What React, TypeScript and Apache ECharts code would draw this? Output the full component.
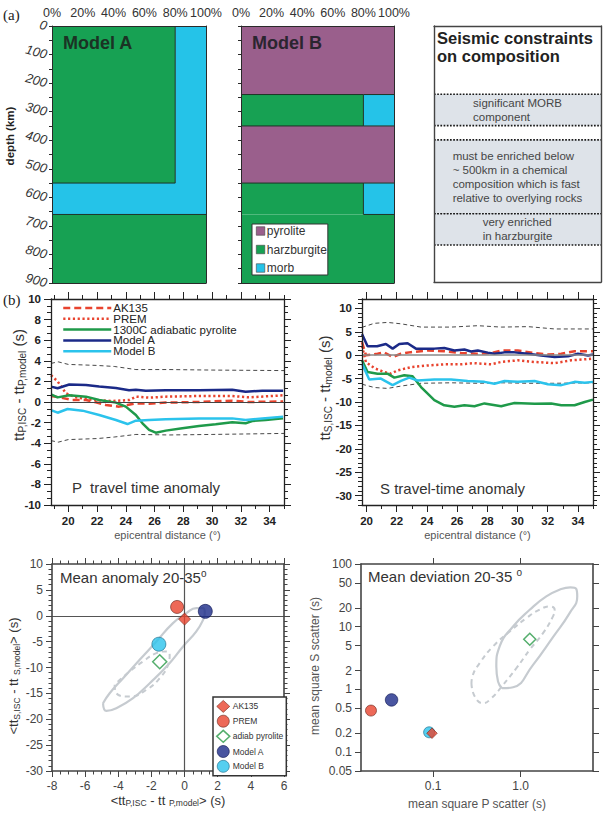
import React, { useEffect, useRef } from 'react';
import * as echarts from 'echarts';

const FONT = '"Liberation Sans", Arial, Helvetica, sans-serif';
const W = 605;
const H = 813;

// ---------- (a) composition columns: percent of each rock per depth layer ----------
const MODEL_A_LAYERS = [
  { top: 0, bottom: 550, pyrolite: 0, harzburgite: 80, morb: 20 },
  { top: 550, bottom: 660, pyrolite: 0, harzburgite: 0, morb: 100 },
  { top: 660, bottom: 900, pyrolite: 0, harzburgite: 100, morb: 0 },
];
const MODEL_B_LAYERS = [
  { top: 0, bottom: 240, pyrolite: 100, harzburgite: 0, morb: 0 },
  { top: 240, bottom: 350, pyrolite: 0, harzburgite: 80, morb: 20 },
  { top: 350, bottom: 550, pyrolite: 100, harzburgite: 0, morb: 0 },
  { top: 550, bottom: 660, pyrolite: 0, harzburgite: 80, morb: 20 },
  { top: 660, bottom: 900, pyrolite: 0, harzburgite: 100, morb: 0 },
];
const ROCKS = ['pyrolite', 'harzburgite', 'morb'];
const ROCK_COLORS: Record<string, string> = {
  pyrolite: '#9a5f8c',
  harzburgite: '#17a153',
  morb: '#25c3e8',
};
const PERCENT_LABELS = [0, 20, 40, 60, 80, 100];
const DEPTH_LABELS = [0, 100, 200, 300, 400, 500, 600, 700, 800, 900];
const DEPTH_TICKS = [0, 50, 100, 150, 200, 250, 300, 350, 400, 450, 500, 550, 600, 650, 700, 750, 800, 850, 900];

// seismic constraint bands (depth km)
const BAND_TOPS = [240, 400, 660];
const BAND_BOTTOMS = [350, 660, 770];
const BAND_TEXTS = [
  'significant MORB\ncomponent',
  'must be enriched below\n~ 500km in a chemical\ncomposition which is fast\nrelative to overlying rocks',
  'very enriched\nin harzburgite',
];

// ---------- (b) P travel-time anomaly [distance deg, seconds] ----------
const P_AK135 = [[18.8, 0.58], [19.38, 0.45], [20.3, 0.2], [21.23, 0.2], [21.92, -0.03], [22.61, -0.29], [23.54, -0.45], [24.12, -0.29], [24.7, -0.13], [25.62, -0.16], [26.78, -0.06], [29.09, 0.0], [31.4, 0.13], [32.56, 0.0], [34.94, 0.06]];
const P_PREM = [[18.8, 2.6], [19.26, 2.0], [19.84, 0.84], [20.53, 0.45], [21.23, 0.29], [22.15, 0.16], [23.08, 0.1], [24.23, 0.19], [24.7, 0.52], [25.62, 0.42], [26.78, 0.52], [29.09, 0.58], [31.4, 0.58], [32.56, 0.45], [34.94, 0.65]];
const P_PYROLITE = [[18.8, 0.74], [19.26, 0.45], [20.07, 0.65], [21.23, 0.52], [22.15, 0.19], [23.31, -0.06], [24.0, -0.45], [24.7, -1.26], [25.16, -2.07], [25.62, -2.7], [26.08, -2.98], [26.78, -2.78], [27.93, -2.55], [29.09, -2.33], [30.25, -2.17], [31.4, -1.97], [32.33, -2.07], [32.79, -1.84], [33.72, -1.75], [34.94, -1.59]];
const P_MODEL_A = [[18.8, 1.49], [19.26, 1.33], [20.07, 1.7], [21.23, 1.65], [22.15, 1.5], [23.31, 1.35], [24.23, 1.15], [24.7, 1.2], [25.39, 1.1], [26.78, 1.15], [29.09, 1.15], [31.4, 1.2], [32.33, 1.0], [33.49, 1.1], [34.94, 1.1]];
const P_MODEL_B = [[18.8, -0.78], [19.26, -1.04], [19.95, -0.68], [20.99, -0.84], [22.15, -1.26], [23.31, -1.75], [24.12, -2.14], [24.7, -1.81], [25.62, -1.75], [26.78, -1.68], [29.09, -1.59], [31.4, -1.59], [32.33, -1.75], [33.49, -1.6], [34.94, -1.42]];
const P_ENV_UP = [[18.8, 3.75], [19.3, 3.9], [20.0, 3.65], [22.0, 3.55], [23.2, 3.45], [24.7, 3.15], [27.0, 3.15], [30.0, 3.1], [35.0, 3.05]];
const P_ENV_LOW = [[18.8, -3.75], [19.3, -3.9], [20.0, -3.65], [22.0, -3.55], [23.2, -3.4], [24.7, -3.15], [27.0, -3.2], [30.0, -3.15], [35.0, -3.05]];

// ---------- (b) S travel-time anomaly ----------
const S_AK135 = [[19.7, 2.8], [19.96, 0], [20.73, 0.3], [21.17, 0.6], [21.73, -0.4], [22.28, 0.3], [22.94, 0.65], [24.05, 1.0], [25.15, 0.85], [26.26, 0.45], [27.37, 0.3], [28.25, 0.45], [28.92, 1.0], [30.02, 1.0], [31.13, 0.45], [32.01, 0.15], [32.9, 0.3], [33.78, 0.85], [35.0, 0.85]];
const S_PREM = [[19.7, 2.0], [19.96, -1.5], [20.51, -2.75], [21.17, -3.6], [21.62, -3.95], [22.06, -3.25], [22.94, -2.55], [24.05, -2.2], [25.15, -1.95], [26.26, -1.95], [27.15, -1.7], [28.25, -1.95], [28.92, -1.45], [30.02, -1.1], [31.13, -1.45], [32.46, -1.7], [33.56, -1.1], [35.0, -0.75]];
const S_PYROLITE = [[19.7, -1.1], [20.07, -3.6], [20.73, -3.95], [21.39, -3.95], [21.84, -4.8], [22.5, -4.3], [23.05, -4.5], [23.61, -6.8], [24.49, -9.6], [25.15, -10.7], [25.82, -11.0], [26.48, -10.7], [27.15, -10.9], [27.81, -10.3], [28.92, -10.9], [29.8, -10.2], [31.13, -10.4], [32.23, -10.3], [32.9, -10.7], [33.78, -10.7], [34.45, -10.0], [35.0, -9.5]];
const S_MODEL_A = [[19.7, 4.5], [20.07, 1.9], [20.7, 1.9], [21.28, 2.4], [21.73, 1.4], [22.17, 2.4], [22.72, 2.55], [23.27, 1.4], [24.49, 1.4], [25.15, 1.55], [25.82, 1.0], [26.48, 1.2], [26.92, 0.8], [27.37, 1.0], [28.03, 0.55], [28.47, 0.3], [29.14, 0.6], [29.8, 0.6], [30.69, 0.3], [31.57, -0.05], [32.46, -0.4], [33.34, -0.25], [34.0, 0.3], [34.67, -0.05], [35.0, 0.15]];
const S_MODEL_B = [[19.7, -1.8], [20.18, -5.2], [20.95, -5.0], [21.73, -6.4], [22.28, -5.5], [22.83, -4.8], [23.38, -5.4], [24.49, -5.2], [25.6, -5.2], [26.7, -5.5], [27.81, -5.7], [28.47, -6.1], [29.14, -5.5], [30.02, -5.7], [31.13, -5.5], [32.01, -6.2], [32.9, -6.4], [33.78, -5.7], [34.45, -5.9], [35.0, -5.7]];
const S_ENV_UP = [[19.7, 5.95], [20.51, 6.8], [21.39, 7.0], [22.28, 6.7], [23.61, 6.0], [25.6, 6.0], [27.37, 6.3], [28.92, 6.0], [30.69, 6.1], [32.46, 5.6], [35.0, 5.6]];
const S_ENV_LOW = [[19.7, -6.2], [20.51, -6.9], [21.39, -7.1], [22.28, -6.6], [23.61, -6.0], [25.6, -5.9], [27.37, -6.0], [28.92, -5.9], [30.69, -6.0], [32.46, -6.0], [35.0, -5.9]];

// ---------- mean anomaly / mean deviation over 20-35 deg ----------
const MODEL_NAMES = ['AK135', 'PREM', 'adiab pyrolite', 'Model A', 'Model B'];
const MEAN_P = [0.0, -0.45, -1.5, 1.25, -1.55];
const MEAN_S = [-0.65, 1.7, -8.9, 0.85, -5.5];
const DEV_P = [0.097, 0.0195, 1.27, 0.0335, 0.09];
const DEV_S = [0.2, 0.46, 6.3, 0.68, 0.207];

// confidence regions
const MEAN_OUTER = [[-4.92, -16.9], [-4.52, -14.97], [-3.71, -12.06], [-2.71, -8.52], [-1.7, -4.97], [-0.7, -1.42], [0.11, 0.52], [0.71, 1.48], [1.12, 1.48], [1.22, 0.52], [1.12, -0.77], [0.71, -3.03], [-0.09, -5.94], [-0.99, -9.48], [-2.1, -13.03], [-3.11, -15.94], [-4.12, -17.87], [-4.72, -18.39]];
const MEAN_INNER = [[-4.22, -13.35], [-4.12, -14.97], [-3.31, -15.61], [-2.31, -14.32], [-1.5, -12.06], [-1.0, -9.48], [-0.9, -7.55], [-1.1, -6.9], [-1.7, -7.23], [-2.51, -8.84], [-3.31, -10.77], [-4.02, -12.71]];
const DEV_OUTER = [[0.612, 1.045], [0.818, 1.084], [1.384, 2.466], [2.339, 6.82], [3.622, 16.48], [4.426, 30.4], [4.315, 39.9], [3.69, 42.4], [2.91, 39.9], [1.963, 30.4], [1.268, 18.6], [0.818, 10.09], [0.575, 4.84], [0.527, 2.317], [0.551, 1.337]];
const DEV_INNER = [[0.274, 1.256], [0.299, 0.769], [0.372, 0.603], [0.462, 0.723], [0.628, 1.18], [0.893, 2.18], [1.268, 4.29], [1.8, 7.91], [2.339, 14.6], [2.443, 18.7], [2.143, 21.1], [1.648, 18.7], [1.161, 13.7], [0.75, 8.39], [0.483, 4.84], [0.34, 2.62], [0.281, 1.61]];

const P_X_LABELS = [20, 22, 24, 26, 28, 30, 32, 34];
const P_Y_LABELS = [-10, -8, -6, -4, -2, 0, 2, 4, 6, 8, 10];
const S_Y_LABELS = [-30, -25, -20, -15, -10, -5, 0, 5, 10];
const MEAN_X_LABELS = [-8, -6, -4, -2, 0, 2, 4, 6];
const MEAN_Y_LABELS = [-30, -25, -20, -15, -10, -5, 0, 5, 10];
const DEV_X_LABELS = [0.1, 1.0];
const DEV_Y_LABELS = [0.05, 0.1, 0.2, 0.5, 1, 2, 5, 10, 20, 50, 100];

const steps = (a: number, b: number, s: number) => {
  const out: number[] = [];
  for (let v = a; v <= b + 1e-9; v += s) out.push(+v.toFixed(4));
  return out;
};
const lg = (v: number) => Math.log10(v);
const closed = (pts: number[][]) => [...pts, pts[0]];

// ---------- helpers ----------
type Side = { major?: number[]; minor?: number[]; labels?: number[] };
interface FrameOpt {
  grid: number;
  min: number;
  max: number;
  inverse?: boolean;
  near: Side;
  far: Side;
  fmt?: (v: number) => string;
  labelStyle?: any;
  color?: string;
  lineWidth?: number;
  tickLen?: number;
  minorLen?: number;
  name?: string;
  nameGap?: number;
  nameStyle?: any;
}

function buildAxes(list: any[], dir: 'x' | 'y', o: FrameOpt): number {
  const sides = dir === 'x' ? ['bottom', 'top'] : ['left', 'right'];
  const color = o.color ?? '#222';
  const base = {
    type: 'value',
    gridIndex: o.grid,
    min: o.min,
    max: o.max,
    inverse: !!o.inverse,
    splitLine: { show: false },
    splitArea: { show: false },
    z: 6,
    silent: true,
  };
  const mainIdx = list.length;
  [o.near, o.far].forEach((side, i) => {
    const hasLabels = !!side.labels && side.labels.length > 0;
    const ax: any = {
      ...base,
      position: sides[i],
      axisLine: { show: true, onZero: false, lineStyle: { color, width: o.lineWidth ?? 1 } },
      axisTick:
        side.major && side.major.length
          ? { show: true, inside: false, length: o.tickLen ?? 7, customValues: side.major, lineStyle: { color, width: 1 } }
          : { show: false },
      axisLabel: hasLabels
        ? { show: true, customValues: side.labels, formatter: o.fmt, fontFamily: FONT, ...o.labelStyle }
        : { show: false },
    };
    if (hasLabels && o.name) {
      Object.assign(ax, { name: o.name, nameLocation: 'middle', nameGap: o.nameGap, nameTextStyle: { fontFamily: FONT, ...o.nameStyle } });
    }
    list.push(ax);
    if (side.minor && side.minor.length) {
      list.push({
        ...base,
        position: sides[i],
        axisLine: { show: false, onZero: false },
        axisTick: { show: true, inside: false, length: o.minorLen ?? 4, customValues: side.minor, lineStyle: { color, width: 1 } },
        axisLabel: { show: false },
      });
    }
  });
  return mainIdx;
}

type Layer = { top: number; bottom: number; [k: string]: number };

function rockRects(layers: Layer[], rock: string) {
  const out: number[][] = [];
  layers.forEach((L) => {
    let x0 = 0;
    ROCKS.forEach((r) => {
      const w = L[r];
      if (r === rock && w > 0) out.push([x0, x0 + w, L.top, L.bottom]);
      x0 += w;
    });
  });
  return out;
}

function rockAt(L: Layer, x: number) {
  let acc = 0;
  for (const r of ROCKS) {
    acc += L[r];
    if (x < acc) return r;
  }
  return ROCKS[ROCKS.length - 1];
}

function splitsOf(L: Layer) {
  const out: number[] = [];
  let acc = 0;
  ROCKS.forEach((r) => {
    if (L[r] > 0) {
      acc += L[r];
      if (acc < 100) out.push(acc);
    }
  });
  return out;
}

// outline segments wherever two different rocks meet
function contactSegments(layers: Layer[]) {
  const segs: number[][] = [];
  layers.forEach((L) => splitsOf(L).forEach((x) => segs.push([x, L.top, x, L.bottom])));
  for (let i = 0; i < layers.length - 1; i++) {
    const A = layers[i];
    const B = layers[i + 1];
    const cuts = Array.from(new Set([0, 100, ...splitsOf(A), ...splitsOf(B)])).sort((a, b) => a - b);
    for (let k = 0; k < cuts.length - 1; k++) {
      const mid = (cuts[k] + cuts[k + 1]) / 2;
      if (rockAt(A, mid) !== rockAt(B, mid)) segs.push([cuts[k], A.bottom, cuts[k + 1], A.bottom]);
    }
  }
  return segs;
}

function textWidth(text: string, font: string) {
  const c = document.createElement('canvas').getContext('2d');
  if (!c) return 0;
  c.font = font;
  return Math.max(...text.split('\n').map((t) => c.measureText(t).width));
}

const rectRenderer = (color: string) => (_p: any, api: any) => {
  const a = api.coord([api.value(0), api.value(2)]);
  const b = api.coord([api.value(1), api.value(3)]);
  return {
    type: 'rect',
    shape: { x: Math.min(a[0], b[0]), y: Math.min(a[1], b[1]), width: Math.abs(b[0] - a[0]), height: Math.abs(b[1] - a[1]) },
    style: { fill: color },
  };
};

const segRenderer = (_p: any, api: any) => {
  const a = api.coord([api.value(0), api.value(1)]);
  const b = api.coord([api.value(2), api.value(3)]);
  return { type: 'line', shape: { x1: a[0], y1: a[1], x2: b[0], y2: b[1] }, style: { stroke: '#1d3326', lineWidth: 1 } };
};

const BAND_FONT_SIZE = 11.5;
const bandRenderer = (p: any, api: any) => {
  const a = api.coord([0, api.value(0)]);
  const b = api.coord([100, api.value(1)]);
  const text = BAND_TEXTS[p.dataIndex];
  const w = textWidth(text, `${BAND_FONT_SIZE}px ${FONT}`);
  const dotted = { stroke: '#1a1a1a', lineWidth: 1.7, lineDash: [1.7, 1.5] };
  return {
    type: 'group',
    children: [
      { type: 'rect', shape: { x: a[0], y: a[1], width: b[0] - a[0], height: b[1] - a[1] }, style: { fill: '#dee3e9' } },
      { type: 'line', shape: { x1: a[0], y1: a[1], x2: b[0], y2: a[1] }, style: dotted },
      { type: 'line', shape: { x1: a[0], y1: b[1], x2: b[0], y2: b[1] }, style: dotted },
      {
        type: 'text',
        x: (a[0] + b[0]) / 2 - w / 2,
        y: (a[1] + b[1]) / 2,
        style: { text, fill: '#464646', fontSize: BAND_FONT_SIZE, fontFamily: FONT, lineHeight: 14, align: 'left', verticalAlign: 'middle' },
      },
    ],
  };
};

const RED = '#e8432e';
const GREEN = '#1f9a4a';
const NAVY = '#1b2a88';
const CYAN = '#2bc3ec';

function buildOption() {
  const xAxes: any[] = [];
  const yAxes: any[] = [];
  const series: any[] = [];

  // ---- (a) model columns ----
  const modelX = (grid: number) =>
    buildAxes(xAxes, 'x', {
      grid, min: 0, max: 100, color: '#2a2a2a',
      near: {}, far: { labels: PERCENT_LABELS },
      fmt: (v) => `${v}%`,
      labelStyle: { fontSize: 12.5, color: '#333', margin: 7 },
    });
  const depthY = (grid: number, labels: boolean) =>
    buildAxes(yAxes, 'y', {
      grid, min: 0, max: 900, inverse: true, color: '#2a2a2a', tickLen: 3,
      near: { major: DEPTH_TICKS, labels: labels ? DEPTH_LABELS : undefined }, far: {},
      labelStyle: { fontSize: 13, fontStyle: 'italic', color: '#333', rotate: -15, margin: 5, padding: [0, 0, 8, 0] },
    });
  const ax0 = modelX(0), ay0 = depthY(0, true);
  const ax1 = modelX(1), ay1 = depthY(1, false);
  const ax2 = buildAxes(xAxes, 'x', { grid: 2, min: 0, max: 100, color: '#444', lineWidth: 1.4, near: {}, far: {} });
  const ay2 = buildAxes(yAxes, 'y', { grid: 2, min: 0, max: 900, inverse: true, color: '#444', lineWidth: 1.4, near: {}, far: {} });

  const modelSeries = (layers: Layer[], xi: number, yi: number) => {
    ROCKS.forEach((rock) => {
      const data = rockRects(layers, rock);
      if (!data.length) return;
      series.push({
        type: 'custom', name: rock, xAxisIndex: xi, yAxisIndex: yi, data, silent: true, z: 2,
        encode: { x: [0, 1], y: [2, 3] },
        itemStyle: { color: ROCK_COLORS[rock] },
        renderItem: rectRenderer(ROCK_COLORS[rock]),
      });
    });
    series.push({
      type: 'custom', name: 'contacts', xAxisIndex: xi, yAxisIndex: yi, data: contactSegments(layers), silent: true, z: 3,
      encode: { x: [0, 2], y: [1, 3] },
      renderItem: segRenderer,
    });
  };
  modelSeries(MODEL_A_LAYERS as Layer[], ax0, ay0);
  modelSeries(MODEL_B_LAYERS as Layer[], ax1, ay1);

  series.push({
    type: 'custom', name: 'constraints', xAxisIndex: ax2, yAxisIndex: ay2, silent: true, z: 2,
    data: BAND_TOPS.map((t, i) => [t, BAND_BOTTOMS[i]]),
    encode: { y: [0, 1] },
    renderItem: bandRenderer,
  });

  // ---- (b) travel-time anomaly panels ----
  const boldLabels = { fontSize: 11.5, fontWeight: 'bold', color: '#222', margin: 10 };
  const distName = { fontSize: 11, color: '#555' };
  const px = buildAxes(xAxes, 'x', {
    grid: 3, min: 18.8, max: 35, lineWidth: 1.3,
    near: { major: P_X_LABELS, minor: steps(19, 35, 1), labels: P_X_LABELS },
    far: { major: P_X_LABELS, minor: steps(19, 35, 1) },
    labelStyle: boldLabels, name: 'epicentral distance (°)', nameGap: 24, nameStyle: distName,
  });
  const py = buildAxes(yAxes, 'y', {
    grid: 3, min: -10, max: 10, lineWidth: 1.3,
    near: { major: P_Y_LABELS, minor: steps(-10, 10, 2 / 3), labels: P_Y_LABELS },
    far: { major: P_Y_LABELS, minor: steps(-10, 10, 2 / 3) },
    labelStyle: boldLabels,
  });
  const sx = buildAxes(xAxes, 'x', {
    grid: 4, min: 19.7, max: 35, lineWidth: 1.3,
    near: { major: P_X_LABELS, minor: steps(20, 35, 1), labels: P_X_LABELS },
    far: { major: P_X_LABELS, minor: steps(20, 35, 1) },
    labelStyle: boldLabels, name: 'epicentral distance (°)', nameGap: 24, nameStyle: distName,
  });
  const sy = buildAxes(yAxes, 'y', {
    grid: 4, min: -32, max: 12, lineWidth: 1.3,
    near: { major: S_Y_LABELS, minor: steps(-32, 12, 1), labels: S_Y_LABELS },
    far: { major: S_Y_LABELS, minor: steps(-32, 12, 1) },
    labelStyle: boldLabels,
  });

  const line = (name: string, data: number[][], xi: number, yi: number, color: string, width: number, type: any = 'solid', extra: any = {}) => ({
    type: 'line', name, data, xAxisIndex: xi, yAxisIndex: yi, symbol: 'none', showSymbol: false, silent: true,
    lineStyle: { color, width, type, cap: 'butt' }, itemStyle: { color }, z: 3, ...extra,
  });
  const zeroLine = (color: string, width: number) => ({
    silent: true, symbol: 'none', label: { show: false },
    lineStyle: { color, width, type: 'solid' }, data: [{ yAxis: 0 }],
  });
  const envStyle = ['#333', 0.9, [4, 3]] as const;

  series.push(line('P upper bound', P_ENV_UP, px, py, envStyle[0], envStyle[1], envStyle[2], { markLine: zeroLine('#444', 1) }));
  series.push(line('P lower bound', P_ENV_LOW, px, py, envStyle[0], envStyle[1], envStyle[2]));
  series.push(line('AK135', P_AK135, px, py, RED, 2.5, [7, 4]));
  series.push(line('PREM', P_PREM, px, py, RED, 2.5, [2.2, 2.6]));
  series.push(line('1300C adiabatic pyrolite', P_PYROLITE, px, py, GREEN, 2.5));
  series.push(line('Model A', P_MODEL_A, px, py, NAVY, 2.5));
  series.push(line('Model B', P_MODEL_B, px, py, CYAN, 2.5));

  series.push(line('S upper bound', S_ENV_UP, sx, sy, envStyle[0], envStyle[1], envStyle[2], { markLine: zeroLine('#888', 1.5) }));
  series.push(line('S lower bound', S_ENV_LOW, sx, sy, envStyle[0], envStyle[1], envStyle[2]));
  series.push(line('S AK135', S_AK135, sx, sy, RED, 2.5, [7, 4]));
  series.push(line('S PREM', S_PREM, sx, sy, RED, 2.5, [2.2, 2.6]));
  series.push(line('S pyrolite', S_PYROLITE, sx, sy, GREEN, 2.5));
  series.push(line('S Model A', S_MODEL_A, sx, sy, NAVY, 2.5));
  series.push(line('S Model B', S_MODEL_B, sx, sy, CYAN, 2.5));

  // ---- mean anomaly ----
  const plainLabels = { fontSize: 12, color: '#444', margin: 9 };
  const subRich = {
    m: { fontSize: 13, fontFamily: FONT, color: '#333', lineHeight: 13, verticalAlign: 'middle' },
    s: { fontSize: 8.5, fontFamily: FONT, color: '#333', lineHeight: 7, verticalAlign: 'bottom' },
  };
  const mx = buildAxes(xAxes, 'x', {
    grid: 5, min: -8, max: 6, color: '#444', lineWidth: 1.6, tickLen: 6, minorLen: 3.5,
    near: { major: MEAN_X_LABELS, minor: steps(-8, 6, 0.5), labels: MEAN_X_LABELS },
    far: { major: MEAN_X_LABELS, minor: steps(-8, 6, 0.5) },
    labelStyle: plainLabels,
    name: '{m|<tt}{s|P,ISC}{m| - tt }{s|P,model}{m|> (s)}', nameGap: 23, nameStyle: { rich: subRich },
  });
  const my = buildAxes(yAxes, 'y', {
    grid: 5, min: -30, max: 10, color: '#444', lineWidth: 1.6, tickLen: 6, minorLen: 3.5,
    near: { major: MEAN_Y_LABELS, minor: steps(-30, 10, 1), labels: MEAN_Y_LABELS },
    far: { major: MEAN_Y_LABELS, minor: steps(-30, 10, 1) },
    labelStyle: plainLabels,
  });

  // ---- mean deviation (log10 space) ----
  const dx = buildAxes(xAxes, 'x', {
    grid: 6, min: lg(0.015), max: lg(6.7), color: '#444', lineWidth: 1.6, tickLen: 6,
    near: { major: DEV_X_LABELS.map(lg), labels: DEV_X_LABELS.map(lg) },
    far: { major: DEV_X_LABELS.map(lg) },
    fmt: (v) => (10 ** v).toFixed(1),
    labelStyle: plainLabels,
    name: 'mean square P scatter (s)', nameGap: 27, nameStyle: { fontSize: 12, color: '#555' },
  });
  const dy = buildAxes(yAxes, 'y', {
    grid: 6, min: lg(0.05), max: lg(100), color: '#444', lineWidth: 1.6, tickLen: 6,
    near: { major: DEV_Y_LABELS.map(lg), labels: DEV_Y_LABELS.map(lg) },
    far: { major: DEV_Y_LABELS.map(lg) },
    fmt: (v) => String(parseFloat((10 ** v).toPrecision(2))),
    labelStyle: plainLabels,
  });

  const ELLIPSE = '#c6cbd0';
  series.push(line('mean outer', closed(MEAN_OUTER), mx, my, ELLIPSE, 2.2, 'solid', { smooth: 0.5, z: 2, markLine: { ...zeroLine('#555', 1.2), data: [{ xAxis: 0 }, { yAxis: 0 }] } }));
  series.push(line('mean inner', closed(MEAN_INNER), mx, my, ELLIPSE, 2, [5, 4], { smooth: 0.5, z: 2 }));
  const logPts = (pts: number[][]) => closed(pts).map(([a, b]) => [lg(a), lg(b)]);
  series.push(line('dev outer', logPts(DEV_OUTER), dx, dy, ELLIPSE, 2.2, 'solid', { smooth: 0.5, z: 2 }));
  series.push(line('dev inner', logPts(DEV_INNER), dx, dy, ELLIPSE, 2, [5, 4], { smooth: 0.5, z: 2 }));

  const MARKERS: Record<string, any> = {
    'AK135': { symbol: 'diamond', size: [12, 10.5], color: RED, border: '#7a2a1e', bw: 0.8, z: 8 },
    'PREM': { symbol: 'circle', size: [13, 11], color: RED, border: '#6a261c', bw: 0.8, z: 6 },
    'adiab pyrolite': { symbol: 'diamond', size: [14, 12], color: '#ffffff', border: '#2a9a48', bw: 1.5, z: 6 },
    'Model A': { symbol: 'circle', size: [14, 12.5], color: NAVY, border: '#0d1450', bw: 0.8, z: 6 },
    'Model B': { symbol: 'circle', size: [14, 11], color: CYAN, border: '#1a6a88', bw: 0.8, z: 5 },
  };
  MODEL_NAMES.forEach((name, i) => {
    const mk = MARKERS[name];
    const style = { color: mk.color, borderColor: mk.border, borderWidth: mk.bw };
    series.push({
      type: 'scatter', name: `m:${name}`, xAxisIndex: mx, yAxisIndex: my, silent: true, z: mk.z,
      symbol: mk.symbol, symbolSize: mk.size[0], itemStyle: style, data: [[MEAN_P[i], MEAN_S[i]]],
    });
    series.push({
      type: 'scatter', name: `d:${name}`, xAxisIndex: dx, yAxisIndex: dy, silent: true, z: mk.z,
      symbol: mk.symbol, symbolSize: mk.size[1], itemStyle: style, data: [[lg(DEV_P[i]), lg(DEV_S[i])]],
    });
  });

  // ---- texts ----
  const txt = (text: string, x: number, y: number, s: any, extra: any = {}) => ({
    type: 'text', x, y, silent: true, z: 20, ...extra,
    style: { text, fontFamily: FONT, fill: '#333', align: 'left', verticalAlign: 'middle', ...s },
  });
  const richName = (text: string, x: number, y: number, main: number, sub: number) =>
    txt(text, x, y, {
      align: 'center',
      rich: {
        m: { fontSize: main, fontFamily: FONT, fill: '#333', lineHeight: main + 4, verticalAlign: 'middle' },
        s: { fontSize: sub, fontFamily: FONT, fill: '#333', lineHeight: sub, verticalAlign: 'bottom' },
      },
    }, { rotation: Math.PI / 2 });
  const titleRich = (main: string, x: number, y: number) =>
    txt(`{a|${main}}{o|o}`, x, y, {
      rich: {
        a: { fontSize: 15, fontFamily: FONT, fill: '#333', lineHeight: 18, verticalAlign: 'middle' },
        o: { fontSize: 10, fontFamily: FONT, fill: '#333', lineHeight: 10, verticalAlign: 'top' },
      },
    });

  const graphic = [
    txt('(a)', 3, 15, { fontFamily: '"Liberation Serif", "Times New Roman", serif', fontSize: 15, fill: '#222' }),
    txt('(b)', 3, 300, { fontFamily: '"Liberation Serif", "Times New Roman", serif', fontSize: 15, fill: '#222' }),
    txt('Model A', 63, 43, { fontSize: 18, fontWeight: 'bold', fill: '#1b3324' }),
    txt('Model B', 252, 43, { fontSize: 18, fontWeight: 'bold', fill: '#2b2530' }),
    txt('depth (km)', 10, 136, { fontSize: 11.5, fontWeight: 'bold', fill: '#222', align: 'center' }, { rotation: Math.PI / 2 }),
    txt('Seismic constraints\non composition', 437, 47, { fontSize: 16.5, fontWeight: 'bold', fill: '#222', lineHeight: 18 }),
    txt('P  travel time anomaly', 72, 487, { fontSize: 15 }),
    txt('S travel-time anomaly', 380, 488, { fontSize: 15 }),
    titleRich('Mean anomaly 20-35', 60, 577),
    titleRich('Mean deviation 20-35 ', 368, 576),
    richName('{m|tt}{s|P,ISC}{m| - tt}{s|P,model}{m| (s)}', 18, 385, 15, 10),
    richName('{m|tt}{s|S,ISC}{m| - tt}{s|model}{m| (s)}', 324, 388, 15, 10),
    richName('{m|<tt}{s|S,ISC}{m| - tt }{s|S,model}{m|> (s)}', 13, 676, 13, 8.5),
    txt('mean square S scatter (s)', 315, 666, { fontSize: 12, fill: '#555', align: 'center' }, { rotation: Math.PI / 2 }),
  ];

  const legendBase = { orient: 'vertical', selectedMode: false, z: 10 };
  const legend = [
    {
      ...legendBase,
      data: ['AK135', 'PREM', '1300C adiabatic pyrolite', 'Model A', 'Model B'],
      left: 62, top: 302, itemWidth: 48, itemHeight: 8, itemGap: -1.2, padding: 0,
      lineStyle: { width: 2.5 },
      itemStyle: { opacity: 0 },
      textStyle: { fontSize: 11.5, color: '#222', fontFamily: FONT, lineHeight: 8, padding: [0, 0, 0, -3] },
    },
    {
      ...legendBase,
      data: MODEL_NAMES.map((n) => `m:${n}`),
      formatter: (n: string) => n.slice(2),
      left: 213, top: 697, itemWidth: 13, itemHeight: 12, itemGap: 2,
      borderColor: '#333', borderWidth: 1.5, backgroundColor: '#ffffff', padding: [3, 3, 3, 3],
      itemStyle: { borderWidth: 'inherit' },
      textStyle: { fontSize: 8.5, color: '#333', fontFamily: FONT, padding: [0, 0, 0, -2] },
    },
    {
      ...legendBase,
      data: ROCKS,
      left: 252, top: 224, icon: 'rect', itemWidth: 8.5, itemHeight: 8.5, itemGap: 4.5,
      borderColor: '#333', borderWidth: 1, backgroundColor: '#ffffff', padding: [0, 1, 0, 4],
      itemStyle: { borderColor: '#444', borderWidth: 0.6 },
      textStyle: { fontSize: 12, color: '#333', fontFamily: FONT, lineHeight: 14, padding: [0, 0, 0, -3] },
    },
  ];

  const grid = [
    { left: 52, top: 26, width: 154, height: 257 },
    { left: 241, top: 26, width: 153, height: 257 },
    { left: 434, top: 26, width: 167, height: 256 },
    { left: 51, top: 299, width: 233, height: 206 },
    { left: 362, top: 299, width: 231, height: 206 },
    { left: 52, top: 564, width: 232, height: 207 },
    { left: 361, top: 564, width: 232, height: 207 },
  ].map((g) => ({ ...g, containLabel: false, outerBoundsMode: 'none' }));

  return {
    animation: false,
    backgroundColor: '#ffffff',
    textStyle: { fontFamily: FONT },
    tooltip: { show: false },
    grid,
    xAxis: xAxes,
    yAxis: yAxes,
    legend,
    series,
    graphic,
  };
}

export default function App() {
  const ref = useRef<HTMLDivElement>(null);
  useEffect(() => {
    document.body.style.margin = '0';
    const chart = echarts.init(ref.current as HTMLDivElement, null, { renderer: 'svg' });
    chart.setOption(buildOption() as any);
    return () => chart.dispose();
  }, []);
  return <div ref={ref} style={{ width: W, height: H }} />;
}
